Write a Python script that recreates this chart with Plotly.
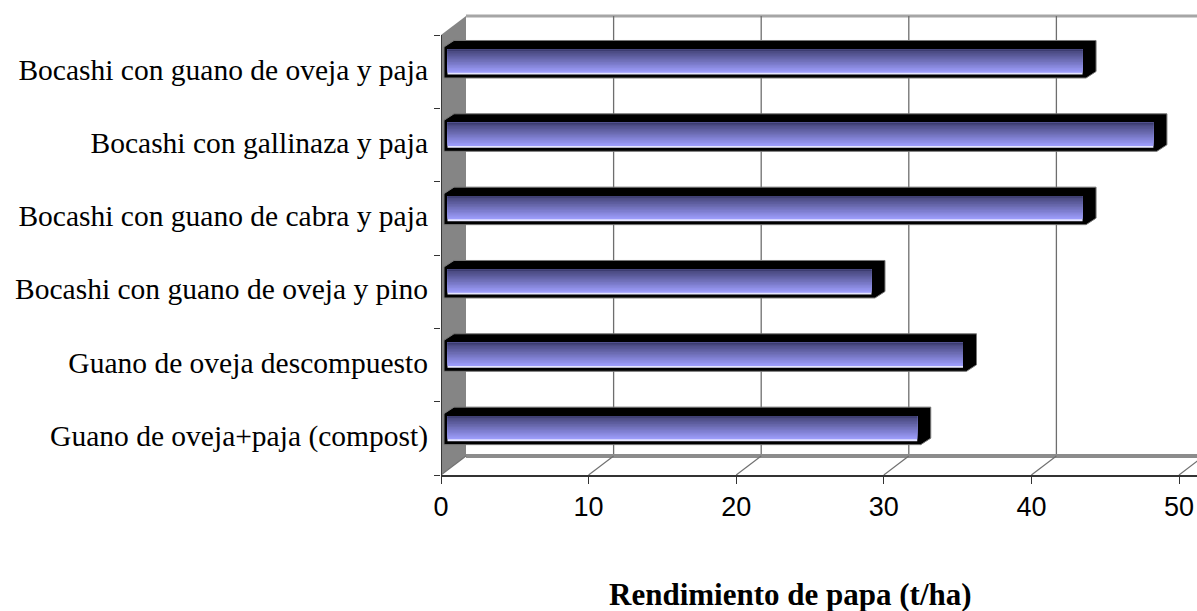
import plotly.graph_objects as go

# ---- data (bottom to top) ----
categories = [
    "Guano de oveja+paja (compost)",
    "Guano de oveja descompuesto",
    "Bocashi con guano de oveja y pino",
    "Bocashi con guano de cabra y paja",
    "Bocashi con gallinaza y paja",
    "Bocashi con guano de oveja y paja",
]
values = [32.3, 35.4, 29.2, 43.5, 48.3, 43.5]
x_ticks = [0, 10, 20, 30, 40, 50]
x_title = "Rendimiento de papa (t/ha)"

# ---- geometry / style ----
W, H = 1197, 611
L, R, T, B = 441, 0, 10, 136
PX = 738 / 50.0             # px per x unit
PY = 73.33                  # px per category
XMAX = (W - L - R) / PX
YMIN = -0.5
YMAX = YMIN + (H - T - B) / PY
NCAT = len(categories)

dxB = 25 / PX               # depth of back wall
dyB = 19 / PY
xs = 3 / PX                 # bar face start
yoff = 9.2 / PY             # bar face shift up
hh = 15.5 / PY              # half height of face
dx = 10 / PX                # bar extrusion
dy = 6.5 / PY
ins_x = 3.5 / PX
ins_top = 2.5 / PY
ins_bot = 3.5 / PY
label_shift = 2.5 / PY      # category labels sit slightly above centre

fig = go.Figure()

shapes = []
ytop = YMIN + NCAT
# back wall frame line (top)
shapes.append(dict(type="line", x0=dxB, x1=XMAX + 1, y0=ytop + dyB, y1=ytop + dyB,
                   line=dict(color="#a6a6a6", width=3), layer="below"))
# back gridlines
for k in x_ticks[1:]:
    shapes.append(dict(type="line", x0=k + dxB, x1=k + dxB, y0=YMIN + dyB, y1=ytop + dyB,
                       line=dict(color="#6e6e6e", width=1.3), layer="below"))
# left wall
shapes.append(dict(type="path",
                   path=f"M 0 {YMIN} L {dxB} {YMIN+dyB} L {dxB} {ytop+dyB} L 0 {ytop} Z",
                   fillcolor="#858585", line=dict(width=0), layer="below"))
# floor
shapes.append(dict(type="path",
                   path=f"M 0 {YMIN} L 50 {YMIN} L {50+dxB} {YMIN+dyB} L {dxB} {YMIN+dyB} Z",
                   fillcolor="white", line=dict(width=0), layer="below"))
shapes.append(dict(type="line", x0=dxB, x1=XMAX + 1, y0=YMIN + dyB, y1=YMIN + dyB,
                   line=dict(color="#8c8c8c", width=4), layer="below"))
for k in x_ticks:
    shapes.append(dict(type="line", x0=k, x1=k + dxB, y0=YMIN, y1=YMIN + dyB,
                       line=dict(color="#707070", width=1.2), layer="below"))
# left front edge
shapes.append(dict(type="line", x0=0, x1=0, y0=YMIN, y1=ytop,
                   line=dict(color="#202020", width=1.5), layer="below"))

# ---- bars: 3D body ----
for i, v in enumerate(values):
    yc = i + yoff
    xe = xs + v
    px_ = [xs, xe, xe + dx, xe + dx, xs + dx, xs, xs]
    py_ = [yc - hh, yc - hh, yc - hh + dy, yc + hh + dy, yc + hh + dy, yc + hh, yc - hh]
    fig.add_trace(go.Scatter(x=px_, y=py_, mode="lines", fill="toself",
                             fillcolor="black", line=dict(color="#777777", width=1),
                             hoverinfo="skip", showlegend=False))


def band_trace(y0, y1, color):
    bx, by = [], []
    for i, v in enumerate(values):
        yc = i + yoff
        a, b = xs + ins_x, xs + v - ins_x
        bx += [a, b, b, a, a, None]
        by += [yc + y0, yc + y0, yc + y1, yc + y1, yc + y0, None]
    return go.Scatter(x=bx, y=by, mode="lines", fill="toself", fillcolor=color,
                      line=dict(width=0, color=color), hoverinfo="skip", showlegend=False)


# ---- bars: gradient front face ----
face_bot = -hh + ins_bot
face_top = hh - ins_top
white_h = 1.8 / PY
top_line_h = 1.6 / PY
grad_bot = face_bot + white_h
grad_top = face_top - top_line_h
N = 14
c0 = (76, 76, 132)    # top
c1 = (156, 156, 250)  # bottom
band = (grad_top - grad_bot) / N
fig.add_trace(band_trace(face_bot, face_top, "#e6e6ff"))
for j in range(N):
    t = j / (N - 1)
    c = tuple(int(round(c1[m] + (c0[m] - c1[m]) * t)) for m in range(3))
    fig.add_trace(band_trace(grad_bot + j * band, face_top, "rgb(%d,%d,%d)" % c))
fig.add_trace(band_trace(grad_top, face_top, "#3c3c70"))

fig.update_layout(
    width=W, height=H,
    margin=dict(l=L, r=R, t=T, b=B, pad=0),
    paper_bgcolor="white", plot_bgcolor="white",
    showlegend=False, hovermode=False,
    shapes=shapes,
    xaxis=dict(range=[0, XMAX], tickvals=x_ticks, ticktext=[str(t) for t in x_ticks],
               ticks="outside", ticklen=7, tickcolor="#333333", tickwidth=1,
               showline=True, linecolor="#333333", linewidth=1.5,
               showgrid=False, zeroline=False,
               tickfont=dict(family="Liberation Sans, Arial", size=27, color="black")),
    yaxis=dict(range=[YMIN, YMAX], tickvals=[k + label_shift for k in range(NCAT)],
               ticktext=categories,
               ticks="", ticklabelstandoff=12,
               minor=dict(tickvals=[YMIN + k for k in range(NCAT + 1)], ticks="outside",
                          ticklen=6, tickcolor="#333333", tickwidth=1, showgrid=False),
               showline=False, showgrid=False, zeroline=False,
               tickfont=dict(family="Liberation Serif, Times New Roman", size=29.5, color="black")),
    annotations=[dict(text="<b>%s</b>" % x_title, x=(790 - L) / PX, xref="x",
                      y=(475 - 594) / (H - T - B), yref="paper", yanchor="middle",
                      xanchor="center", showarrow=False,
                      font=dict(family="Liberation Serif, Times New Roman", size=31, color="black"))],
)

fig.write_html("out.html", config={"displayModeBar": False},
               post_script="document.body.style.margin='0';document.body.style.overflow='hidden';")
